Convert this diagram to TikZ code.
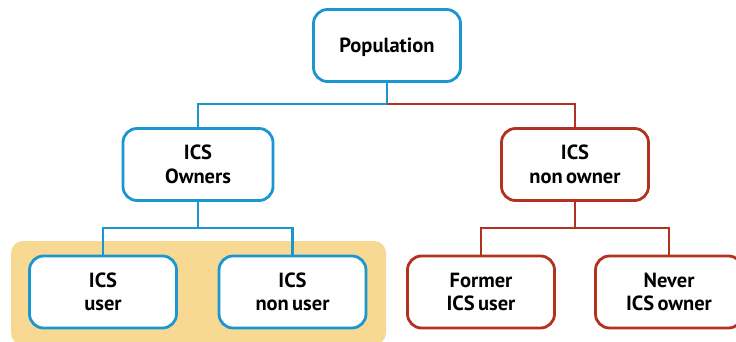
\documentclass[tikz,border=0pt]{standalone}
\usepackage{fontspec}
\setmainfont{PT Sans}
\definecolor{cblue}{HTML}{1A96D0}
\definecolor{cred}{HTML}{B3311F}
\definecolor{cyel}{HTML}{F8D994}
\newcommand{\boxfont}{\fontsize{20.5}{23.6}\selectfont\bfseries\spaceskip=0.16em\relax}
\tikzset{
  box/.style={draw, fill=white, rounded corners=14pt, line width=2.8pt,
    minimum width=147pt, minimum height=72pt, align=center,
    font=\boxfont, text=black},
  bbox/.style={box, draw=cblue},
  rbox/.style={box, draw=cred},
  bl/.style={draw=cblue, line width=2.7pt},
  rl/.style={draw=cred, line width=2.7pt}
}
\begin{document}
\begin{tikzpicture}[x=1pt,y=-1pt]
\useasboundingbox (0,0) rectangle (736,342);
\fill[cyel, rounded corners=12pt] (11,241) rectangle (386,345);
\node[bbox, text depth=0pt] (pop) at (387,45.5) {Population};
\node[bbox, minimum width=150pt] (own) at (198,164.5) {ICS\\Owners};
\node[rbox] (non) at (575,164.5) {ICS\\non owner};
\node[bbox] (usr) at (103,292) {ICS\\user};
\node[bbox] (nusr) at (292.5,292) {ICS\\non user};
\node[rbox] (form) at (481,292) {Former\\ICS user};
\node[rbox] (nev) at (669,292) {Never\\ICS owner};
\coordinate (j0) at (387,104);
\coordinate (j1) at (198,228);
\coordinate (j2) at (575,228);
\draw[bl] (pop.south) -- (j0);
\draw[bl] (j0) -| (own.north);
\draw[rl] (j0) -| (non.north);
\draw[bl] (own.south) -- (j1);
\draw[bl] (j1) -| (usr.north);
\draw[bl] (j1) -| (nusr.north);
\draw[rl] (non.south) -- (j2);
\draw[rl] (j2) -| (form.north);
\draw[rl] (j2) -| (nev.north);
\end{tikzpicture}
\end{document}
